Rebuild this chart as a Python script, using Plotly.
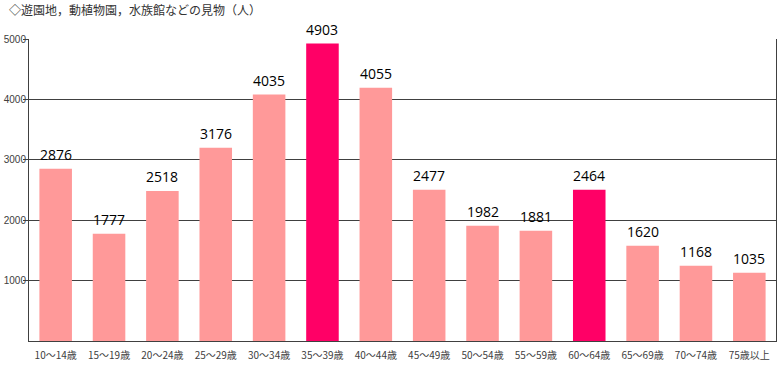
import plotly.graph_objects as go

categories = ["10～14歳", "15～19歳", "20～24歳", "25～29歳", "30～34歳", "35～39歳", "40～44歳",
              "45～49歳", "50～54歳", "55～59歳", "60～64歳", "65～69歳", "70～74歳", "75歳以上"]
bar_heights = [2852, 1774, 2483, 3201, 4080, 4925, 4191, 2504, 1907, 1824, 2504, 1575, 1244, 1128]
value_labels = ["2876", "1777", "2518", "3176", "4035", "4903", "4055",
                "2477", "1982", "1881", "2464", "1620", "1168", "1035"]
highlight = ["35～39歳", "60～64歳"]
y_ticks = [1000, 2000, 3000, 4000, 5000]
title_text = "◇遊園地，動植物園，水族館などの見物（人）"

colors = ["#FF0066" if c in highlight else "#FF9999" for c in categories]

fig = go.Figure()
fig.add_trace(go.Bar(x=categories, y=bar_heights, marker=dict(color=colors, line=dict(width=0)),
                     hoverinfo="x+y"))

for c, h, t in zip(categories, bar_heights, value_labels):
    fig.add_annotation(x=c, y=h, text=t, showarrow=False, yanchor="bottom", yshift=3,
                       font=dict(family="Open Sans", size=14, color="#000000"))

fig.add_annotation(xref="paper", yref="paper", x=-0.029, y=1.0, xanchor="left", yanchor="bottom",
                   yshift=19, text=title_text, showarrow=False,
                   font=dict(family="Noto Sans CJK JP", size=12, color="#333333"))

fig.update_layout(
    width=784, height=375,
    margin=dict(l=29, r=8, t=39, b=34),
    plot_bgcolor="white", paper_bgcolor="white",
    bargap=0.39,
    showlegend=False,
    xaxis=dict(type="category", showline=True, linecolor="#404040", linewidth=1,
               ticks="", ticklabelstandoff=5,
               tickfont=dict(family="Noto Sans CJK JP", size=10, color="#404040"),
               showgrid=False, automargin=False),
    yaxis=dict(range=[0, 5000], tickvals=y_ticks, ticks="outside", ticklen=5, tickcolor="#404040",
               ticklabelstandoff=-5,
               showline=True, mirror=True, linecolor="#404040", linewidth=1,
               showgrid=True, gridcolor="#404040", gridwidth=1, zeroline=False, automargin=False,
               tickfont=dict(family="Liberation Sans", size=10, color="#404040")),
)

fig.write_html("out.html", config={"displayModeBar": False},
               post_script="document.body.style.margin='0';")
